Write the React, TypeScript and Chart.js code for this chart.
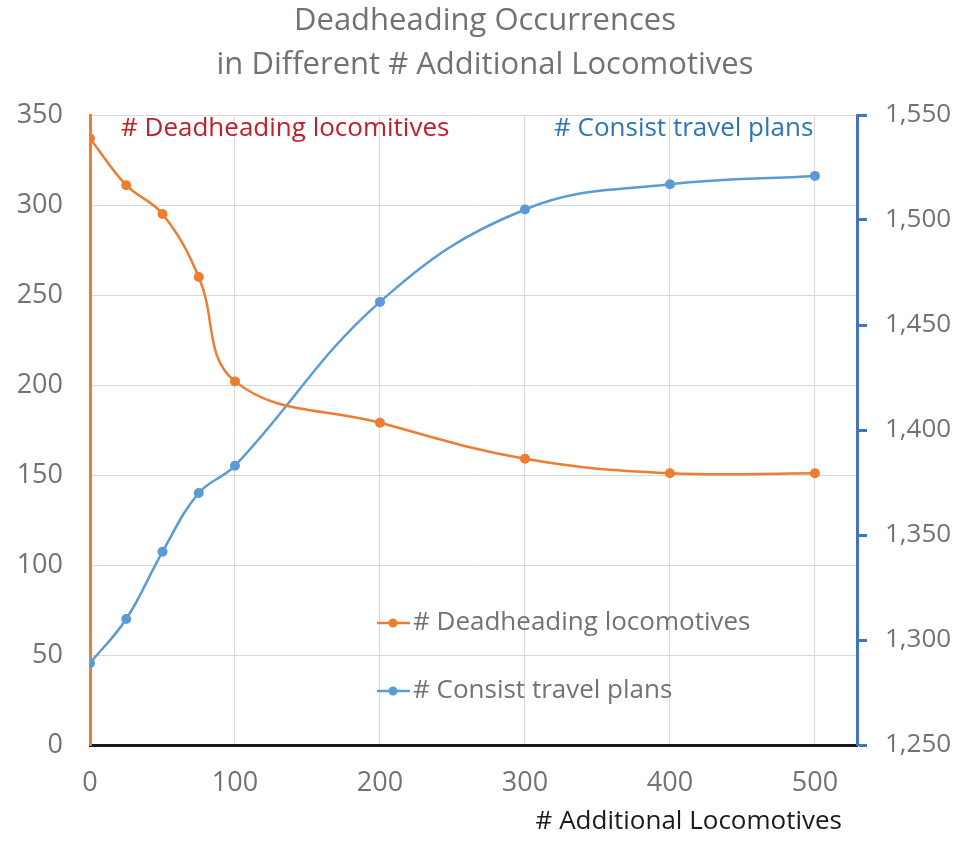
import React, { useEffect, useRef } from "react";
import { Chart, registerables } from "chart.js";

Chart.register(...registerables);

const xValues = [0, 25, 50, 75, 100, 200, 300, 400, 500];
const deadheading = [337, 311, 295, 260, 202, 179, 159, 151, 151];
const consistPlans = [1289, 1310, 1342, 1370, 1383, 1461, 1505, 1517, 1521];
const xTicks = [0, 100, 200, 300, 400, 500];
const titleLines = ["Deadheading Occurrences", "in Different # Additional Locomotives"];
const seriesNames = ["# Deadheading locomotives", "# Consist travel plans"];
const annotationLeft = "# Deadheading locomitives";
const annotationRight = "# Consist travel plans";
const xTitle = "# Additional Locomotives";

const ORANGE = "#ED7D31";
const BLUE = "#5B9BD5";
const AXIS_BLUE = "#4472C4";
const GRAY = "#767171";
const FONT = "'Open Sans', sans-serif";

export default function App() {
  const ref = useRef<HTMLCanvasElement | null>(null);

  useEffect(() => {
    const canvas = ref.current;
    if (!canvas) return;

    const overlay = {
      id: "overlay",
      afterDraw(chart: any) {
        const ctx = chart.ctx;
        ctx.save();
        // title
        ctx.fillStyle = GRAY;
        ctx.textAlign = "center";
        ctx.textBaseline = "middle";
        ctx.font = `31px ${FONT}`;
        ctx.fillText(titleLines[0], 485, 21);
        ctx.fillText(titleLines[1], 485, 65);
        // annotations
        ctx.textAlign = "left";
        ctx.font = `26px ${FONT}`;
        ctx.fillStyle = "#C0202A";
        ctx.fillText(annotationLeft, 121, 129);
        ctx.fillStyle = "#2E75B6";
        ctx.fillText(annotationRight, 554, 129);
        // legend
        const rows = [
          { y: 623, color: ORANGE, name: seriesNames[0] },
          { y: 691, color: BLUE, name: seriesNames[1] },
        ];
        rows.forEach((r) => {
          ctx.strokeStyle = r.color;
          ctx.lineWidth = 2.5;
          ctx.beginPath();
          ctx.moveTo(377, r.y);
          ctx.lineTo(410, r.y);
          ctx.stroke();
          ctx.fillStyle = r.color;
          ctx.beginPath();
          ctx.arc(393, r.y, 4.5, 0, Math.PI * 2);
          ctx.fill();
          ctx.fillStyle = GRAY;
          ctx.font = `26px ${FONT}`;
          ctx.textAlign = "left";
          ctx.fillText(r.name, 413, r.y);
        });
        // x axis title
        ctx.fillStyle = "#1a1a1a";
        ctx.textAlign = "right";
        ctx.font = `26px ${FONT}`;
        ctx.fillText(xTitle, 842, 822);
        ctx.restore();
      },
    };

    const chart = new Chart(canvas, {
      type: "line",
      data: {
        datasets: [
          {
            label: seriesNames[0],
            data: xValues.map((x, i) => ({ x, y: deadheading[i] })),
            borderColor: ORANGE,
            backgroundColor: ORANGE,
            borderWidth: 2.5,
            pointRadius: 5,
            pointBorderWidth: 0,
            tension: 0.4,
            yAxisID: "y",
          },
          {
            label: seriesNames[1],
            data: xValues.map((x, i) => ({ x, y: consistPlans[i] })),
            borderColor: BLUE,
            backgroundColor: BLUE,
            borderWidth: 2.5,
            pointRadius: 5,
            pointBorderWidth: 0,
            tension: 0.4,
            yAxisID: "y1",
          },
        ],
      },
      options: {
        responsive: false,
        animation: false,
        layout: { padding: { top: 115, left: 0, right: 0, bottom: 0 } },
        plugins: { legend: { display: false }, title: { display: false }, tooltip: { enabled: false } },
        scales: {
          x: {
            type: "linear",
            min: 0,
            max: 529,
            afterBuildTicks: (scale: any) => {
              scale.ticks = xTicks.map((v) => ({ value: v }));
            },
            afterFit: (scale: any) => {
              scale.height = 101;
            },
            grid: { color: "#D9D9D9", lineWidth: 1, drawTicks: false },
            border: { color: "#1a1a1a", width: 3 },
            ticks: {
              color: GRAY,
              font: { family: FONT, size: 27 },
              padding: 22,
              maxRotation: 0,
            },
          },
          y: {
            position: "left",
            min: 0,
            max: 350,
            afterFit: (scale: any) => {
              scale.width = 90;
            },
            grid: { color: "#D9D9D9", lineWidth: 1, drawTicks: false },
            border: { color: ORANGE, width: 3 },
            ticks: {
              stepSize: 50,
              color: GRAY,
              font: { family: FONT, size: 27 },
              padding: 27,
            },
          },
          y1: {
            position: "right",
            min: 1250,
            max: 1550,
            afterFit: (scale: any) => {
              scale.width = 108;
            },
            grid: {
              drawOnChartArea: false,
              drawTicks: true,
              tickLength: 10,
              tickColor: AXIS_BLUE,
              tickWidth: 3,
            },
            border: { color: AXIS_BLUE, width: 3 },
            ticks: {
              stepSize: 50,
              color: GRAY,
              font: { family: FONT, size: 26 },
              padding: 18,
              callback: (v: any) => Number(v).toLocaleString("en-US"),
            },
          },
        },
      },
      plugins: [overlay],
    });

    return () => chart.destroy();
  }, []);

  return (
    <div style={{ position: "absolute", left: 0, top: 0, width: 965, height: 846, background: "#fff" }}>
      <canvas ref={ref} width={965} height={846} style={{ display: "block" }} />
    </div>
  );
}
